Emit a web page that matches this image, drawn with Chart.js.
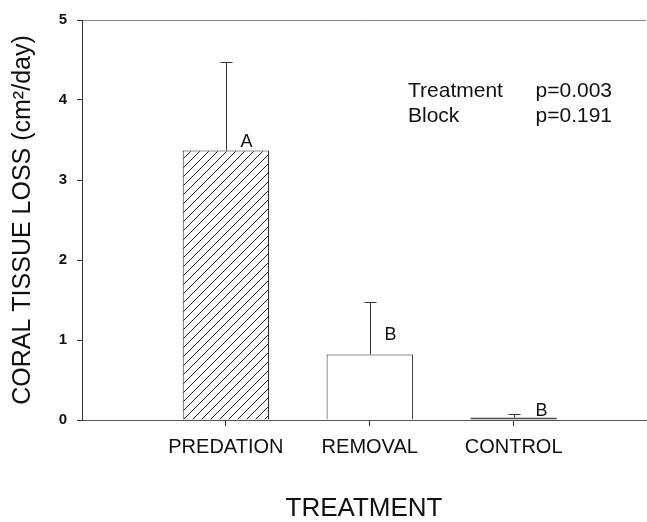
<!DOCTYPE html>
<html>
<head>
<meta charset="utf-8">
<script src="https://cdn.jsdelivr.net/npm/chart.js@4.4.1/dist/chart.umd.min.js"></script>
<style>
  html, body { margin: 0; padding: 0; background: #fff; }
  #wrap { width: 647px; height: 522px; }
</style>
</head>
<body>
<div id="wrap"><canvas id="chart"></canvas></div>
<script>
// data
const categories = ["PREDATION", "REMOVAL", "CONTROL"]
const positions = [1, 2, 3]
const meanLoss = [3.37, 0.82, 0.03]     // cm2/day
const stdErr = [1.10, 0.65, 0.04]       // upper error bar
const groupLetters = ["A", "B", "B"]
const yTicks = [0, 1, 2, 3, 4, 5]
const statLabels = ["Treatment", "Block"]
const statValues = ["p=0.003", "p=0.191"]

const FONT = "Arial, 'Liberation Sans', sans-serif"

function hatchPattern(){
    const c = document.createElement("canvas")
    c.width = 9
    c.height = 9
    const g = c.getContext("2d")
    g.fillStyle = "#fff"
    g.fillRect(0, 0, 9, 9)
    g.strokeStyle = "#222"
    g.lineWidth = 1
    g.beginPath()
    g.moveTo(0, 9); g.lineTo(9, 0)
    g.moveTo(-1, 1); g.lineTo(1, -1)
    g.moveTo(8, 10); g.lineTo(10, 8)
    g.stroke()
    return g.createPattern(c, "repeat")
}

function dotPattern(){
    const c = document.createElement("canvas")
    c.width = 4
    c.height = 4
    const g = c.getContext("2d")
    g.fillStyle = "#222"
    g.fillRect(0, 0, 4, 4)
    g.fillStyle = "#ccc"
    g.fillRect(1, 1, 1, 1)
    return g.createPattern(c, "repeat")
}

// error bars, group letters and the p-values box
const extras = {
    id: "extras",
    afterDatasetsDraw(chart){
        const ctx = chart.ctx
        const x = chart.scales.x
        const y = chart.scales.y
        const letterShift = [[20, -3], [20, -14], [27, -2]]
        ctx.save()
        ctx.strokeStyle = "#333"
        ctx.lineWidth = 1
        for(let i = 0; i < positions.length; i++){
            const px = Math.round(x.getPixelForValue(positions[i])) + 0.5
            const yTop = y.getPixelForValue(meanLoss[i])
            const yErr = Math.round(y.getPixelForValue(meanLoss[i] + stdErr[i])) + 0.5
            ctx.beginPath()
            ctx.moveTo(px, yTop)
            ctx.lineTo(px, yErr)
            ctx.moveTo(px - 6, yErr)
            ctx.lineTo(px + 6, yErr)
            ctx.stroke()

            ctx.fillStyle = "#111"
            ctx.font = "18px " + FONT
            ctx.textAlign = "center"
            ctx.textBaseline = "alphabetic"
            ctx.fillText(groupLetters[i], px + letterShift[i][0], yTop + letterShift[i][1])
        }

        ctx.font = "21px " + FONT
        ctx.fillStyle = "#111"
        for(let i = 0; i < statLabels.length; i++){
            const base = 97 + i * 25
            ctx.textAlign = "left"
            ctx.fillText(statLabels[i], 408, base)
            ctx.textAlign = "right"
            ctx.fillText(statValues[i], 612, base)
        }
        ctx.restore()
    }
}

new Chart(document.getElementById("chart"), {
    type: "bar",
    data: {
        datasets: [{
            data: positions.map((p, i) => ({x: p, y: meanLoss[i]})),
            backgroundColor: [hatchPattern(), "#fff", dotPattern()],
            borderColor: "#222",
            borderWidth: 1,
            barPercentage: 0.6,
            categoryPercentage: 1
        }]
    },
    options: {
        responsive: true,
        maintainAspectRatio: false,
        animation: false,
        layout: {padding: {top: 20, right: 1, left: 0, bottom: 0}},
        plugins: {
            legend: {display: false},
            tooltip: {enabled: false}
        },
        scales: {
            x: {
                type: "linear",
                offset: false,
                min: 0,
                max: 3.92,
                afterBuildTicks: scale => {
                    scale.ticks = positions.map(v => ({value: v}))
                },
                afterFit: scale => { scale.height = 102 },
                ticks: {
                    autoSkip: false,
                    maxRotation: 0,
                    padding: 9,
                    color: "#111",
                    font: {family: FONT, size: 20},
                    callback: v => categories[positions.indexOf(v)] || ""
                },
                grid: {drawOnChartArea: false, offset: false, tickLength: 6, color: "#333"},
                border: {color: "#555", width: 1},
                title: {
                    display: true,
                    text: "TREATMENT",
                    color: "#111",
                    font: {family: FONT, size: 26, lineHeight: 1},
                    padding: {top: 0, bottom: 0}
                }
            },
            y: {
                min: 0,
                max: 5,
                afterBuildTicks: scale => {
                    scale.ticks = yTicks.map(v => ({value: v}))
                },
                afterFit: scale => { scale.width = 82 },
                ticks: {
                    padding: 10,
                    color: "#111",
                    font: {family: FONT, size: 15, weight: "bold"}
                },
                grid: {
                    color: c => c.tick && c.tick.value === 5 ? "#888" : "rgba(0,0,0,0)",
                    tickColor: "#333",
                    tickLength: 5
                },
                border: {color: "#333", width: 1},
                title: {
                    display: true,
                    text: "CORAL TISSUE LOSS (cm²/day)",
                    color: "#111",
                    font: {family: FONT, size: 25},
                    padding: {top: 8, bottom: 0}
                }
            }
        }
    },
    plugins: [extras]
})
</script>
</body>
</html>
